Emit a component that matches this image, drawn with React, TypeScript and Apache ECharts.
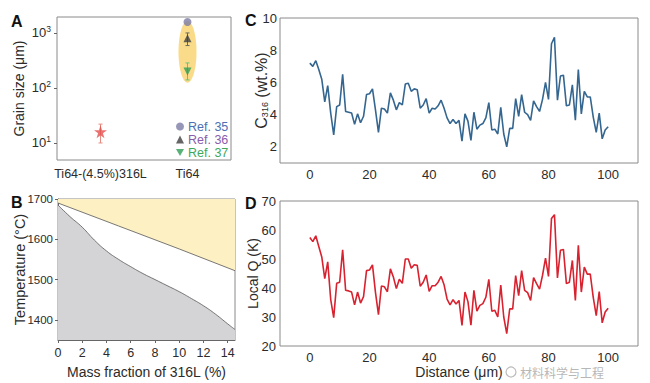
import React, { useEffect, useRef } from "react";
import * as echarts from "echarts";

// ---------- Panel A data ----------
const grainCategories = ["Ti64-(4.5%)316L", "Ti64"];
const alloyGrain = [[0, 16]];
const alloyGrainErr = [[0, 10, 22]];
const ref35Grain = [[1, 1580]];
const ref36Grain = [[1, 800]];
const ref36Err = [[1, 590, 1000]];
const ref37Grain = [[1, 200]];
const ref37Err = [[1, 140, 285]];
const ti64Band = [[1, 125, 1650]];
const logTicks = [10, 100, 1000];

// ---------- Panel B data ----------
const liquidusX = [0, 5, 10, 14.6];
const liquidusT = [1690, 1633, 1576, 1522];
const solidusX = [0, 1, 2, 3, 4, 5, 6, 7, 8, 9, 10, 11, 12, 13, 14, 14.6];
const solidusT = [1685, 1656, 1630, 1598, 1571, 1550, 1532, 1515, 1500, 1485, 1470, 1453, 1435, 1414, 1390, 1376];
const tempTicks = [1400, 1500, 1600, 1700];
const massTicks = [0, 2, 4, 6, 8, 10, 12, 14];

// ---------- Panels C & D data ----------
const c316 = [
  7.2, 7.0, 7.35, 6.8, 6.2, 4.8, 5.8, 4.1, 2.75, 4.5,
  4.6, 6.5, 4.2, 4.15, 4.1, 3.4, 4.05, 3.5, 3.9, 5.25,
  5.3, 5.6, 4.3, 2.9, 4.4, 4.35, 4.1, 5.35, 4.9, 4.3,
  4.75, 4.6, 5.9, 5.95, 5.45, 5.6, 5.55, 4.4, 4.6, 5.0,
  4.1, 4.4, 4.35, 4.55, 4.9, 4.4, 3.8, 3.45, 3.7, 3.45,
  3.65, 2.35, 4.05, 3.6, 2.4, 4.15, 3.1, 3.35, 3.45, 3.8,
  4.75, 3.05, 3.1, 2.8, 4.45, 2.8, 2.0, 3.15, 3.15, 5.0,
  3.9, 5.25, 4.15, 4.0, 3.65, 4.85, 4.5, 4.2, 4.95, 6.0,
  4.95, 8.4, 8.8, 4.9, 6.4, 6.45, 4.55, 4.6, 5.85, 3.65,
  6.8, 4.05, 5.45, 5.1, 5.1, 3.85, 2.9, 4.1, 2.5, 3.05,
  3.25,
];
const localQ = [
  57.4, 56.0, 58.0, 54.3, 50.7, 43.2, 49.0, 36.0, 29.8, 41.6,
  42.0, 53.2, 39.2, 39.0, 38.6, 34.2, 38.6, 34.8, 37.0, 46.0,
  46.2, 48.0, 38.5, 30.8, 40.7, 40.4, 38.7, 46.6, 43.8, 39.8,
  43.0, 41.6, 50.0, 50.0, 46.8, 48.0, 47.8, 40.6, 42.0, 44.5,
  38.8, 40.8, 40.8, 42.0, 44.0, 41.1, 36.2, 34.2, 36.0, 34.5,
  35.7, 27.1, 38.6, 35.3, 27.2, 39.2, 32.0, 34.0, 34.6, 36.8,
  43.0, 32.0, 32.3, 30.0, 41.0, 30.0, 24.3, 32.8, 32.8, 44.3,
  37.4, 46.0, 39.2, 38.4, 35.7, 43.6, 41.5, 39.6, 44.4, 50.3,
  44.0, 64.0, 65.3, 43.5, 53.0, 53.3, 41.5, 42.0, 49.5, 35.7,
  54.7, 38.6, 47.2, 44.8, 44.8, 36.8, 30.5, 38.8, 28.0, 31.7,
  33.0,
];
const distanceTicks = [0, 20, 40, 60, 80, 100];
const c316Ticks = [2, 4, 6, 8, 10];

const FONT = "'Liberation Sans', Arial, Helvetica, sans-serif";
const TXT = "#2b2b2b";
const FRAME = "#8a8a8a";

const STAR = "path://M50,0 L61,35 L98,35 L68,57 L79,91 L50,70 L21,91 L32,57 L2,35 L39,35 Z";
const DOWN_TRI = "path://M0,0 L10,0 L5,9 Z";

function errorBarSeries(name: string, data: number[][], color: string) {
  return {
    type: "custom",
    name,
    xAxisIndex: 0,
    yAxisIndex: 0,
    silent: true,
    z: 3,
    renderItem: (_p: any, api: any) => {
      const x = api.value(0);
      const lo = api.coord([x, api.value(1)]);
      const hi = api.coord([x, api.value(2)]);
      const w = 2;
      const st = { stroke: color, lineWidth: 1 };
      return {
        type: "group",
        children: [
          { type: "line", shape: { x1: lo[0], y1: lo[1], x2: hi[0], y2: hi[1] }, style: st },
          { type: "line", shape: { x1: lo[0] - w, y1: lo[1], x2: lo[0] + w, y2: lo[1] }, style: st },
          { type: "line", shape: { x1: hi[0] - w, y1: hi[1], x2: hi[0] + w, y2: hi[1] }, style: st },
        ],
      };
    },
    data,
  };
}

export default function App() {
  const ref = useRef<HTMLDivElement>(null);
  useEffect(() => {
    if (!ref.current) return;
    const chart = echarts.init(ref.current, null, { renderer: "svg" });

    const baseLabel = { fontFamily: FONT, fontSize: 13, color: TXT };
    const nameStyle = { fontFamily: FONT, fontSize: 14, color: TXT };
    const plain = (v: number) => String(v);

    const option: any = {
      animation: false,
      backgroundColor: "#ffffff",
      grid: [
        { left: 57, top: 17, width: 174, height: 143, show: true, borderColor: FRAME, borderWidth: 1, backgroundColor: "transparent" },
        { left: 58, top: 199, width: 177, height: 141, show: true, borderColor: FRAME, borderWidth: 1, backgroundColor: "transparent" },
        { left: 280, top: 18, width: 358, height: 145, show: true, borderColor: FRAME, borderWidth: 1, backgroundColor: "transparent" },
        { left: 280, top: 201, width: 358, height: 145, show: true, borderColor: FRAME, borderWidth: 1, backgroundColor: "transparent" },
      ],
      xAxis: [
        {
          gridIndex: 0,
          type: "category",
          data: grainCategories,
          axisLine: { show: false },
          axisTick: { show: false },
          axisLabel: { ...baseLabel, fontSize: 12.5, margin: 7, interval: 0 },
          splitLine: { show: false },
        },
        {
          gridIndex: 1,
          type: "value",
          min: 0,
          max: 14.6,
          name: "Mass fraction of 316L (%)",
          nameLocation: "middle",
          nameGap: 25,
          nameMoveOverlap: false,
          nameTextStyle: nameStyle,
          axisLine: { show: true, lineStyle: { color: "#666" } },
          axisTick: { show: true, length: 3, customValues: massTicks, lineStyle: { color: "#666" } },
          axisLabel: { ...baseLabel, fontSize: 12.5, margin: 6, customValues: massTicks, formatter: plain },
          splitLine: { show: false },
        },
        {
          gridIndex: 2,
          type: "value",
          min: -10,
          max: 110,
          axisLine: { show: false },
          axisTick: { show: false },
          axisLabel: { ...baseLabel, margin: 5, customValues: distanceTicks, formatter: plain },
          splitLine: { show: false },
        },
        {
          gridIndex: 3,
          type: "value",
          min: -10,
          max: 110,
          name: "Distance (μm)",
          nameLocation: "middle",
          nameGap: 19,
          nameMoveOverlap: false,
          nameTextStyle: nameStyle,
          axisLine: { show: false },
          axisTick: { show: false },
          axisLabel: { ...baseLabel, margin: 5, customValues: distanceTicks, formatter: plain },
          splitLine: { show: false },
        },
      ],
      yAxis: [
        {
          gridIndex: 0,
          type: "log",
          logBase: 10,
          min: 4.9,
          max: 1950,
          name: "Grain size (μm)",
          nameLocation: "middle",
          nameGap: 31,
          nameMoveOverlap: false,
          nameTextStyle: nameStyle,
          axisLine: { show: false },
          axisTick: { show: true, length: 3, customValues: logTicks, lineStyle: { color: "#666" } },
          minorTick: { show: false },
          axisLabel: {
            ...baseLabel,
            margin: 6,
            customValues: logTicks,
            formatter: (v: number) => `10{sup|${Math.round(Math.log10(v))}}`,
            rich: { sup: { fontFamily: FONT, fontSize: 8.5, color: TXT, padding: [0, 0, 7, 0] } },
          },
          splitLine: { show: false },
        },
        {
          gridIndex: 1,
          type: "value",
          min: 1350,
          max: 1700,
          name: "Temperature (°C)",
          nameLocation: "middle",
          nameGap: 31,
          nameMoveOverlap: false,
          nameTextStyle: { ...nameStyle, fontSize: 14.5 },
          axisLine: { show: true, lineStyle: { color: "#666" } },
          axisTick: { show: true, length: 3, customValues: tempTicks, lineStyle: { color: "#666" } },
          axisLabel: { ...baseLabel, fontSize: 11.5, margin: 5, customValues: tempTicks, formatter: plain },
          splitLine: { show: false },
        },
        {
          gridIndex: 2,
          type: "value",
          min: 1,
          max: 10,
          name: "C{sub|316} (wt.%)",
          nameLocation: "middle",
          nameGap: 10.5,
          nameMoveOverlap: false,
          nameTextStyle: { ...nameStyle, fontSize: 16, rich: { sub: { fontFamily: FONT, fontSize: 9, color: TXT, padding: [8, 0, 0, 0] } } },
          axisLine: { show: false },
          axisTick: { show: false },
          axisLabel: { ...baseLabel, margin: 3, customValues: c316Ticks, formatter: plain },
          splitLine: { show: false },
        },
        {
          gridIndex: 3,
          type: "value",
          min: 20,
          max: 70,
          interval: 10,
          name: "Local Q (K)",
          nameLocation: "middle",
          nameGap: 20,
          nameMoveOverlap: false,
          nameTextStyle: nameStyle,
          axisLine: { show: false },
          axisTick: { show: false },
          axisLabel: { ...baseLabel, margin: 4, formatter: plain },
          splitLine: { show: false },
        },
      ],
      legend: {
        orient: "vertical",
        left: 176,
        top: 120,
        itemGap: 0,
        itemWidth: 8,
        itemHeight: 8,
        padding: 0,
        textStyle: { fontFamily: FONT, fontSize: 12.5, lineHeight: 11.5, padding: [0, 0, 0, -1] },
        data: [
          { name: "Ref. 35", icon: "circle", textStyle: { color: "#4d6fb3" } },
          { name: "Ref. 36", icon: "triangle", textStyle: { color: "#8a5cad" } },
          { name: "Ref. 37", icon: DOWN_TRI, textStyle: { color: "#3ea85a" } },
        ],
      },
      series: [
        {
          type: "custom",
          name: "band",
          xAxisIndex: 0,
          yAxisIndex: 0,
          silent: true,
          z: 1,
          renderItem: (_p: any, api: any) => {
            const x = api.value(0);
            const lo = api.coord([x, api.value(1)]);
            const hi = api.coord([x, api.value(2)]);
            return {
              type: "ellipse",
              shape: { cx: lo[0], cy: (lo[1] + hi[1]) / 2, rx: 9, ry: Math.abs(lo[1] - hi[1]) / 2 },
              style: { fill: "#f7cf62", opacity: 0.75 },
            };
          },
          data: ti64Band,
        },
        errorBarSeries("alloyErr", alloyGrainErr, "#e58a7e"),
        errorBarSeries("ref36Err", ref36Err, "#6b6b5a"),
        errorBarSeries("ref37Err", ref37Err, "#6fc07f"),
        {
          type: "scatter",
          name: "alloy",
          xAxisIndex: 0,
          yAxisIndex: 0,
          symbol: STAR,
          symbolSize: 13,
          itemStyle: { color: "#e4504f" },
          z: 4,
          data: alloyGrain,
        },
        {
          type: "scatter",
          name: "Ref. 35",
          xAxisIndex: 0,
          yAxisIndex: 0,
          symbol: "circle",
          symbolSize: 8,
          itemStyle: { color: "#7c7ca6" },
          z: 4,
          data: ref35Grain,
        },
        {
          type: "scatter",
          name: "Ref. 36",
          xAxisIndex: 0,
          yAxisIndex: 0,
          symbol: "triangle",
          symbolSize: 8,
          itemStyle: { color: "#3f3f3f" },
          z: 4,
          data: ref36Grain,
        },
        {
          type: "scatter",
          name: "Ref. 37",
          xAxisIndex: 0,
          yAxisIndex: 0,
          symbol: DOWN_TRI,
          symbolSize: 8,
          itemStyle: { color: "#2e9e55" },
          z: 4,
          data: ref37Grain,
        },
        {
          type: "line",
          name: "liquidus",
          xAxisIndex: 1,
          yAxisIndex: 1,
          symbol: "none",
          lineStyle: { color: "#555", width: 0.8 },
          areaStyle: { origin: "end", color: "#fdf0c3", opacity: 1 },
          data: liquidusX.map((x, i) => [x, liquidusT[i]]),
        },
        {
          type: "line",
          name: "solidus",
          xAxisIndex: 1,
          yAxisIndex: 1,
          symbol: "none",
          smooth: true,
          lineStyle: { color: "#555", width: 0.8 },
          areaStyle: { origin: "start", color: "#d4d4d6", opacity: 1 },
          data: solidusX.map((x, i) => [x, solidusT[i]]),
        },
        {
          type: "line",
          name: "C316",
          xAxisIndex: 2,
          yAxisIndex: 2,
          symbol: "none",
          lineStyle: { color: "#346690", width: 1.6 },
          data: c316.map((v, i) => [i, v]),
        },
        {
          type: "line",
          name: "LocalQ",
          xAxisIndex: 3,
          yAxisIndex: 3,
          symbol: "none",
          lineStyle: { color: "#d8222f", width: 1.6 },
          data: localQ.map((v, i) => [i, v]),
        },
      ],
      graphic: [
        { type: "text", left: 11, top: 13, style: { text: "A", font: `bold 16px ${FONT}`, fill: "#111" } },
        { type: "text", left: 11, top: 194, style: { text: "B", font: `bold 16px ${FONT}`, fill: "#111" } },
        { type: "text", left: 245, top: 12, style: { text: "C", font: `bold 16px ${FONT}`, fill: "#111" } },
        { type: "text", left: 245, top: 195, style: { text: "D", font: `bold 16px ${FONT}`, fill: "#111" } },
        { type: "text", left: 168, top: 217, style: { text: "Liquid", font: `14px ${FONT}`, fill: TXT } },
        { type: "text", left: 105, top: 287, style: { text: "β", font: `15px 'DejaVu Serif', serif`, fill: TXT } },
        {
          type: "circle",
          shape: { cx: 511, cy: 372, r: 5 },
          z: 100,
          style: { fill: "none", stroke: "rgba(175,175,175,0.85)", lineWidth: 1.2 },
        },
        {
          type: "text",
          left: 519,
          top: 365,
          z: 100,
          style: {
            text: "材料科学与工程",
            font: `12px 'Noto Sans CJK SC', sans-serif`,
            lineHeight: 14,
            fill: "rgba(170,170,170,0.85)",
            stroke: "rgba(255,255,255,0.9)",
            lineWidth: 2,
          },
        },
      ],
    };

    chart.setOption(option);
    return () => chart.dispose();
  }, []);

  return (
    <div
      ref={ref}
      style={{ position: "fixed", left: 0, top: 0, width: 650, height: 383, background: "#fff" }}
    />
  );
}
